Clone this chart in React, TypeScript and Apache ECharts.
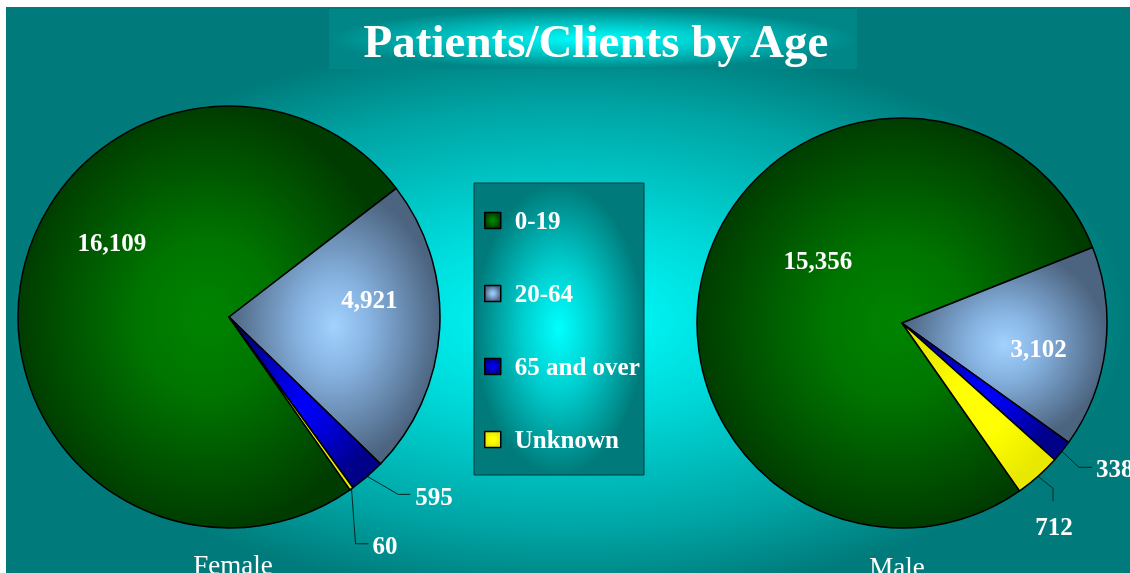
import React, { useEffect, useRef } from "react";
import * as echarts from "echarts";

// ---- data ----
const chartTitle = "Patients/Clients by Age";
const categories = ["0-19", "20-64", "65 and over", "Unknown"];
const femaleValues = [16109, 4921, 595, 60];
const maleValues = [15356, 3102, 338, 712];
const pieNames = ["Female", "Male"];

// ---- styles ----
const FONT = '"Liberation Serif", "DejaVu Serif", "Times New Roman", serif';
const W = 1124;
const H = 566;

const sliceColors: string[][] = [
  ["#008400", "#007600", "#003c00"],
  ["#a2d2ff", "#86b2e0", "#4c6480"],
  ["#0000ff", "#0000e0", "#000088"],
  ["#ffff00", "#ffff00", "#e8e800"],
];

// per series, per slice: shift of inside labels from the library's default spot
const insideShift: number[][][] = [
  [[-10, -58], [32, -24]],
  [[17, -32], [32, 13]],
];
// per series, per slice: leader line bends and text spot relative to the slice edge point
const outsideLines: any[][] = [
  [null, null,
    { p1: [31, 18], p2: [43, 18], t: [48, 20], align: "left" },
    { p1: [4, 55], p2: [17, 55], t: [21, 57], align: "left" }],
  [null, null,
    { p1: [17, 16], p2: [30, 16], t: [34, 17], align: "left" },
    { p1: [15, 12], p2: [15, 25], t: [16, 50], align: "center" }],
];

const sliceGrad = (c: string[]) =>
  new echarts.graphic.RadialGradient(0.5, 0.5, 0.5, [
    { offset: 0, color: c[0] },
    { offset: 0.35, color: c[1] },
    { offset: 1, color: c[2] },
  ]);

const makeData = (vals: number[]) =>
  categories.map((name, i) => ({
    name,
    value: vals[i],
    itemStyle: { color: sliceGrad(sliceColors[i]) },
    label: { position: i < 2 ? "inside" : "outside" },
    labelLine: { show: i >= 2 },
  }));

const labelLayout = (params: any) => {
  const s = params.seriesIndex;
  const i = params.dataIndex;
  if (i < 2) {
    const r = params.labelRect;
    const d = insideShift[s][i];
    return {
      x: r.x + r.width / 2 + d[0],
      y: r.y + r.height / 2 + d[1],
      align: "center",
      verticalAlign: "middle",
    };
  }
  const pts = params.labelLinePoints;
  if (!pts || !pts.length) return {};
  const p0 = pts[0];
  const o = outsideLines[s][i];
  return {
    x: p0[0] + o.t[0],
    y: p0[1] + o.t[1],
    align: o.align,
    verticalAlign: "middle",
    labelLinePoints: [
      [p0[0], p0[1]],
      [p0[0] + o.p1[0], p0[1] + o.p1[1]],
      [p0[0] + o.p2[0], p0[1] + o.p2[1]],
    ],
  };
};

const pieSeries = (name: string, vals: number[], center: number[], radius: number) => ({
  type: "pie",
  name,
  center,
  radius,
  startAngle: 305,
  clockwise: true,
  avoidLabelOverlap: false,
  silent: true,
  z: 2,
  data: makeData(vals),
  itemStyle: { borderColor: "#000", borderWidth: 1.5 },
  label: {
    show: true,
    color: "#fff",
    fontFamily: FONT,
    fontWeight: "bold",
    fontSize: 25,
    overflow: "none",
    bleedMargin: 0,
    formatter: (p: any) => p.value.toLocaleString("en-US"),
  },
  labelLine: { show: true, smooth: false, lineStyle: { color: "#002828", width: 1 } },
  labelLayout,
  emphasis: { disabled: true },
});

export default function App() {
  const ref = useRef<HTMLDivElement>(null);
  useEffect(() => {
    if (!ref.current) return;
    const chart = echarts.init(ref.current, null, { renderer: "svg" });
    chart.setOption({
      animation: false,
      graphic: [
        {
          type: "rect",
          z: -100,
          shape: { x: 0, y: 0, width: W, height: H },
          style: {
            fill: new echarts.graphic.RadialGradient(0.5, 0.55, 0.5, [
              { offset: 0, color: "#00ffff" },
              { offset: 0.35, color: "#00d8d8" },
              { offset: 0.75, color: "#00a4a4" },
              { offset: 1, color: "#007a7a" },
            ]),
          },
        },
        {
          type: "rect",
          z: -90,
          shape: { x: 323, y: 2, width: 528, height: 60 },
          style: {
            fill: new echarts.graphic.RadialGradient(0.5, 0.5, 0.5, [
              { offset: 0, color: "#00ffff" },
              { offset: 0.5, color: "#00c4c4" },
              { offset: 1, color: "#008686" },
            ]),
          },
        },
        {
          type: "text",
          z: 10,
          x: 590,
          y: 34,
          style: {
            text: chartTitle,
            fill: "#fff",
            font: `bold 47px ${FONT}`,
            textAlign: "center",
            textVerticalAlign: "middle",
          },
        },
        {
          type: "rect",
          z: -80,
          shape: { x: 468, y: 176, width: 170, height: 292 },
          style: {
            fill: new echarts.graphic.RadialGradient(0.5, 0.5, 0.5, [
              { offset: 0, color: "#00ffff" },
              { offset: 0.45, color: "#00cccc" },
              { offset: 1, color: "#007a7a" },
            ]),
            stroke: "#003c3c",
            lineWidth: 1,
          },
        },
        {
          type: "text",
          z: 10,
          x: 227,
          y: 558,
          style: {
            text: pieNames[0],
            fill: "#fff",
            font: `27px ${FONT}`,
            textAlign: "center",
            textVerticalAlign: "middle",
          },
        },
        {
          type: "text",
          z: 10,
          x: 891,
          y: 560,
          style: {
            text: pieNames[1],
            fill: "#fff",
            font: `27px ${FONT}`,
            textAlign: "center",
            textVerticalAlign: "middle",
          },
        },
      ],
      legend: {
        orient: "vertical",
        left: 478,
        top: 201,
        padding: 0,
        itemWidth: 16,
        itemHeight: 16,
        itemGap: 48,
        icon: "rect",
        selectedMode: false,
        data: categories,
        itemStyle: { borderColor: "#000", borderWidth: 1.5 },
        textStyle: {
          color: "#fff",
          fontFamily: FONT,
          fontWeight: "bold",
          fontSize: 25,
          lineHeight: 25,
          padding: [0, 0, 0, 9],
        },
      },
      series: [
        pieSeries(pieNames[0], femaleValues, [223, 310], 211),
        pieSeries(pieNames[1], maleValues, [896, 316], 205),
      ],
    });
    return () => chart.dispose();
  }, []);
  return (
    <div
      ref={ref}
      style={{ position: "fixed", left: 6, top: 7, width: W, height: H, overflow: "hidden" }}
    />
  );
}
